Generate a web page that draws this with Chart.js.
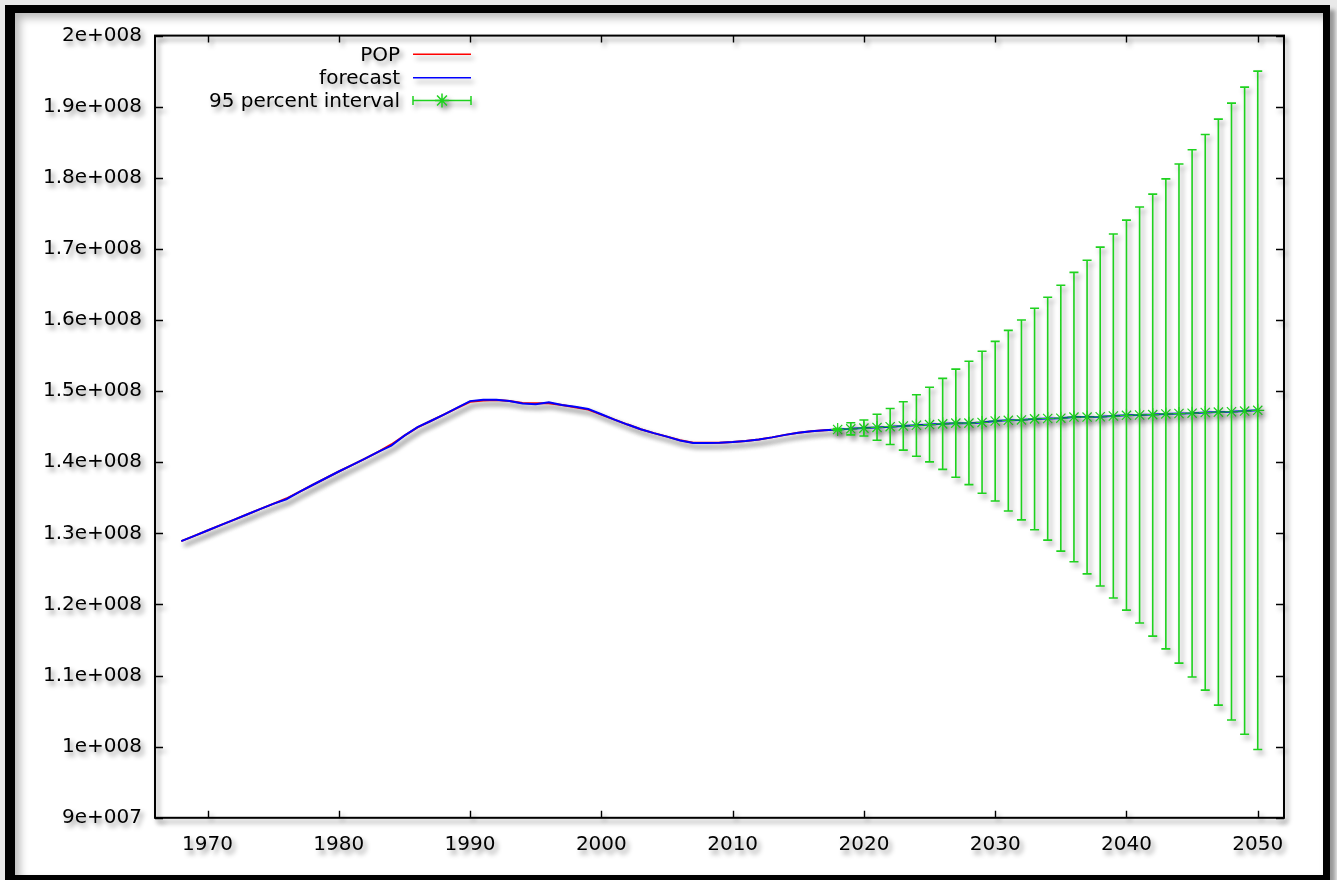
<!DOCTYPE html>
<html>
<head>
<meta charset="utf-8">
<title>POP forecast</title>
<script src="https://cdn.jsdelivr.net/npm/chart.js@4.4.1/dist/chart.umd.min.js"></script>
<style>
  html, body { margin: 0; padding: 0; width: 1337px; height: 880px; overflow: hidden; background: #e9e9e9; }
  #frame {
    position: absolute; left: 5px; top: 5px; width: 1308px; height: 862px;
    border-style: solid; border-color: #000; border-width: 8px 7px 8px 10px;
    background: #fff;
    box-shadow: 5px 5px 4px rgba(0,0,0,0.35), inset 5px 5px 8px rgba(0,0,0,0.28);
  }
  #c { position: absolute; left: 0; top: 0; }
</style>
</head>
<body>
<div id="frame"></div>
<canvas id="c" width="1337" height="880"></canvas>
<script>
// Observed population (millions), 1968-2018
const HIST_YEARS = [];
for (let y = 1968; y <= 2018; y++) HIST_YEARS.push(y);
const POP = [
  128.9, 129.65, 130.4, 131.15, 131.9, 132.65, 133.4, 134.15, 134.9, 135.85,
  136.8, 137.75, 138.7, 139.6, 140.5, 141.45, 142.5, 143.75, 144.9, 145.8,
  146.7, 147.6, 148.5, 148.7, 148.75, 148.6, 148.35, 148.3, 148.3, 148.05,
  147.75, 147.4, 146.7, 146.0, 145.3, 144.65, 144.1, 143.6, 143.1, 142.75,
  142.75, 142.75, 142.85, 143.0, 143.2, 143.5, 143.85, 144.15, 144.35, 144.5,
  144.6
];
// Fitted values over the sample, then the out-of-sample forecast, 1968-2050
const FC_YEARS = [];
for (let y = 1968; y <= 2050; y++) FC_YEARS.push(y);
const FORECAST = [
  128.9, 129.65, 130.4, 131.15, 131.9, 132.65, 133.4, 134.15, 134.8, 135.85,
  136.8, 137.75, 138.7, 139.6, 140.5, 141.45, 142.35, 143.75, 144.95, 145.8,
  146.7, 147.65, 148.6, 148.8, 148.8, 148.6, 148.25, 148.15, 148.45, 148.05,
  147.8, 147.5, 146.75, 146.0, 145.3, 144.65, 144.1, 143.6, 143.05, 142.7,
  142.7, 142.75, 142.85, 143.0, 143.2, 143.5, 143.85, 144.15, 144.35, 144.5,
  144.6, 144.7, 144.8, 144.9, 145.0, 145.1, 145.2, 145.3, 145.4, 145.5,
  145.5, 145.6, 145.8, 145.9, 145.95, 146.1, 146.15, 146.2, 146.35, 146.35,
  146.4, 146.5, 146.6, 146.65, 146.7, 146.8, 146.85, 146.9, 147.0, 147.05,
  147.1, 147.2, 147.3
];
// 95 percent interval, 2018-2050
const INT_YEARS = [];
for (let y = 2018; y <= 2050; y++) INT_YEARS.push(y);
const INT_LOW = [
  144.45, 143.85, 143.7, 143.1, 142.5, 141.7, 140.85, 140.05, 139.0, 137.9,
  136.85, 135.65, 134.55, 133.15, 131.9, 130.5, 129.05, 127.5, 126.0, 124.3,
  122.6, 120.9, 119.2, 117.4, 115.55, 113.75, 111.75, 109.8, 107.95, 105.85,
  103.75, 101.75, 99.6
];
const INT_HIGH = [
  144.75, 145.55, 145.95, 146.75, 147.55, 148.5, 149.5, 150.55, 151.8, 153.1,
  154.2, 155.6, 157.0, 158.55, 160.0, 161.65, 163.2, 164.9, 166.7, 168.4,
  170.25, 172.1, 174.05, 175.9, 177.7, 179.85, 181.95, 183.95, 186.1, 188.25,
  190.5, 192.75, 195.0
];
const INT_MID = INT_YEARS.map(y => FORECAST[FC_YEARS.indexOf(y)]);

// Axis ticks and their labels
const X_TICKS = [1970, 1980, 1990, 2000, 2010, 2020, 2030, 2040, 2050];
const X_TICK_LABELS = ['1970', '1980', '1990', '2000', '2010', '2020', '2030', '2040', '2050'];
const Y_TICKS = [90, 100, 110, 120, 130, 140, 150, 160, 170, 180, 190, 200];
const Y_TICK_LABELS = ['9e+007', '1e+008', '1.1e+008', '1.2e+008', '1.3e+008', '1.4e+008',
  '1.5e+008', '1.6e+008', '1.7e+008', '1.8e+008', '1.9e+008', '2e+008'];

const RED = '#ff0000', BLUE = '#0000ff', GREEN = '#1ed21e';
const FONT = "'DejaVu Sans', Verdana, sans-serif";

Chart.defaults.font.family = FONT;
Chart.defaults.font.size = 20;
Chart.defaults.color = '#000';

const pts = (xs, ys) => xs.map((x, i) => ({ x: x, y: ys[i] }));

// Frame, inward ticks on all four sides, error bars, key, and the soft drop shadow
const decor = {
  id: 'decor',
  beforeDraw(chart) {
    const c = chart.ctx;
    c.save();
    c.shadowColor = 'rgba(0,0,0,0.42)';
    c.shadowBlur = 5;
    c.shadowOffsetX = 3;
    c.shadowOffsetY = 4;
  },
  beforeDatasetsDraw(chart) {
    const c = chart.ctx, a = chart.chartArea;
    const xs = chart.scales.x, ys = chart.scales.y;
    c.save();
    c.strokeStyle = '#000';
    c.lineWidth = 1.4;
    c.beginPath();
    X_TICKS.forEach(v => {
      const px = Math.round(xs.getPixelForValue(v)) + 0.5;
      c.moveTo(px, a.bottom); c.lineTo(px, a.bottom - 7);
      c.moveTo(px, a.top); c.lineTo(px, a.top + 7);
    });
    Y_TICKS.forEach(v => {
      const py = Math.round(ys.getPixelForValue(v)) + 0.5;
      c.moveTo(a.left, py); c.lineTo(a.left + 8, py);
      c.moveTo(a.right, py); c.lineTo(a.right - 8, py);
    });
    c.stroke();
    c.lineWidth = 2;
    c.strokeRect(a.left, a.top, a.right - a.left, a.bottom - a.top);
    c.restore();
  },
  afterDatasetsDraw(chart) {
    const c = chart.ctx;
    const xs = chart.scales.x, ys = chart.scales.y;
    c.save();
    c.strokeStyle = GREEN;
    c.lineWidth = 1.6;
    c.beginPath();
    INT_YEARS.forEach((yr, i) => {
      const px = xs.getPixelForValue(yr);
      const lo = ys.getPixelForValue(INT_LOW[i]);
      const hi = ys.getPixelForValue(INT_HIGH[i]);
      c.moveTo(px, lo); c.lineTo(px, hi);
      c.moveTo(px - 4.5, lo); c.lineTo(px + 4.5, lo);
      c.moveTo(px - 4.5, hi); c.lineTo(px + 4.5, hi);
    });
    c.stroke();
    c.restore();
  },
  afterDraw(chart) {
    const c = chart.ctx;
    const ds = chart.data.datasets;
    const textRight = 400, x0 = 413, x1 = 471;
    const rows = [54.3, 77.7, 100.5];
    c.save();
    c.font = '20px ' + FONT;
    c.textAlign = 'right';
    c.textBaseline = 'middle';
    c.fillStyle = '#000';
    ds.forEach((d, i) => {
      const y = rows[i];
      c.fillText(d.label, textRight, y + 1.5);
      c.strokeStyle = d.borderColor;
      c.lineWidth = 1.5;
      c.beginPath();
      c.moveTo(x0, y); c.lineTo(x1, y);
      if (d.errorBars) {
        c.moveTo(x0, y - 4.5); c.lineTo(x0, y + 4.5);
        c.moveTo(x1, y - 4.5); c.lineTo(x1, y + 4.5);
      }
      c.stroke();
      if (d.errorBars) {
        c.fillStyle = d.borderColor;
        Chart.helpers.drawPoint(c, { pointStyle: 'star', radius: 7, rotation: 0, borderWidth: 1.3 }, (x0 + x1) / 2, y);
        c.fillStyle = '#000';
      }
    });
    c.restore();
    c.restore();
  }
};

new Chart(document.getElementById('c'), {
  type: 'scatter',
  data: {
    datasets: [
      {
        label: 'POP',
        data: pts(HIST_YEARS, POP),
        showLine: true, borderColor: RED, backgroundColor: RED,
        borderWidth: 2, pointRadius: 0, tension: 0, order: 2
      },
      {
        label: 'forecast',
        data: pts(FC_YEARS, FORECAST),
        showLine: true, borderColor: BLUE, backgroundColor: BLUE,
        borderWidth: 2, pointRadius: 0, tension: 0, order: 1
      },
      {
        label: '95 percent interval',
        data: pts(INT_YEARS, INT_MID),
        showLine: false, borderColor: GREEN, backgroundColor: GREEN,
        pointStyle: 'star', pointRadius: 6.5, pointBorderWidth: 1.2,
        errorBars: true, order: 0
      }
    ]
  },
  options: {
    responsive: false,
    animation: false,
    devicePixelRatio: 1,
    layout: { padding: { left: 0, top: 35.6, right: 53, bottom: 0 } },
    plugins: { legend: { display: false }, tooltip: { enabled: false } },
    scales: {
      x: {
        type: 'linear', min: 1966, max: 2052,
        afterBuildTicks: s => { s.ticks = X_TICKS.map(v => ({ value: v })); },
        afterFit: s => { s.height = 62.2; },
        ticks: {
          autoSkip: false, maxRotation: 0, padding: 15,
          callback: (v, i) => X_TICK_LABELS[i]
        },
        grid: { display: false, drawTicks: false },
        border: { display: false }
      },
      y: {
        type: 'linear', min: 90, max: 200,
        afterBuildTicks: s => { s.ticks = Y_TICKS.map(v => ({ value: v })); },
        afterFit: s => { s.width = 155; },
        ticks: {
          autoSkip: false, padding: 13,
          callback: (v, i) => Y_TICK_LABELS[i]
        },
        grid: { display: false, drawTicks: false },
        border: { display: false }
      }
    }
  },
  plugins: [decor]
});
</script>
</body>
</html>
